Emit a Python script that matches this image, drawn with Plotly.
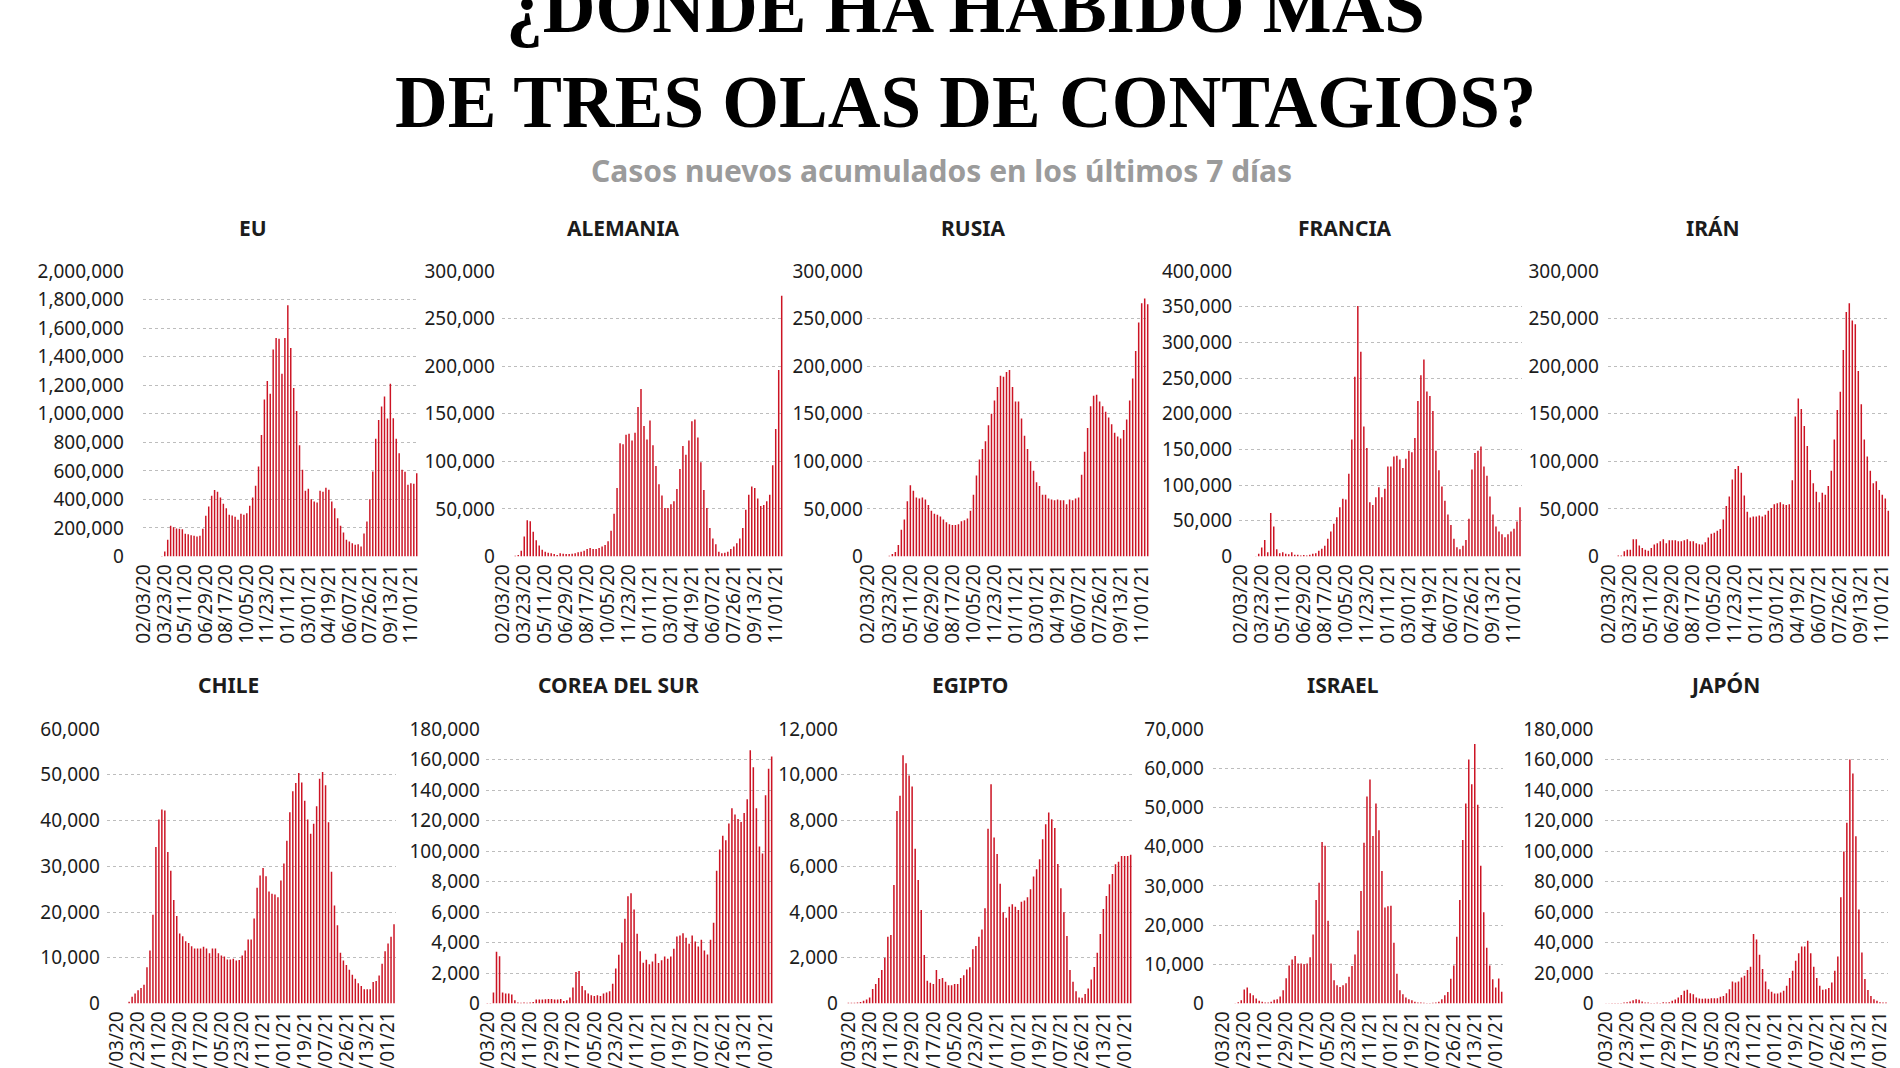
import plotly.graph_objects as go
import pandas as pd

# ---------------- categories / tick labels ----------------
weeks = pd.date_range("2020-01-13", "2021-11-15", freq="7D").strftime("%m/%d/%y").tolist()
tick_labels = ["02/03/20", "03/23/20", "05/11/20", "06/29/20", "08/17/20", "10/05/20",
               "11/23/20", "01/11/21", "03/01/21", "04/19/21", "06/07/21", "07/26/21",
               "09/13/21", "11/01/21"]

# ---------------- data (weekly new cases) ----------------
eu = [0, 0, 0, 0, 100, 500, 3000, 35000, 117000, 215000,
      205000, 196000, 194000, 191000, 159000, 156000, 149000, 145000, 140000, 145000,
      194000, 285000, 350000, 425000, 465000, 453000, 413000, 369000, 338000, 292000,
      287000, 278000, 257000, 299000, 292000, 303000, 355000, 413000, 495000, 630000,
      852000, 1100000, 1230000, 1140000, 1450000, 1530000, 1525000, 1280000, 1530000, 1760000,
      1460000, 1180000, 1020000, 780000, 607000, 460000, 474000, 401000, 385000, 378000,
      460000, 453000, 481000, 467000, 385000, 338000, 268000, 215000, 168000, 117000,
      105000, 93000, 82000, 86000, 70000, 161000, 245000, 401000, 595000, 824000,
      957000, 1050000, 1120000, 966000, 1210000, 969000, 824000, 724000, 607000, 593000,
      502000, 513000, 509000, 583000]

alemania = [0, 0, 50, 100, 800, 1500, 6000, 21000, 38000, 37000,
            26000, 17000, 11500, 7000, 5000, 4000, 3500, 2500, 1500, 3500,
            3000, 2500, 2500, 3000, 3500, 4500, 5000, 6000, 8000, 9000,
            8000, 8000, 9000, 10500, 12000, 16000,
            27000, 45000, 72000, 119000, 118000, 128000, 129000, 122000, 130000, 157000,
            176000, 137000, 123000, 143000, 117000, 95000, 76000, 64000, 51000, 51000,
            55000, 58000, 71000, 92000, 116000, 107000, 122000, 142000, 144000, 125000,
            99000, 70000, 51000, 30000, 19000, 13000, 5000, 3500, 4000, 5000,
            8000, 10500, 14000, 19000, 30000, 49000, 65000, 73500, 72000, 61000,
            53000, 54000, 58000, 65000, 96000, 134000, 196000, 274000]

rusia = [0, 0, 0, 0, 5, 20, 100, 700, 2500,
         4600, 12000, 28000, 39000, 58000, 75000, 69000, 62000, 61000, 62000,
         60000, 54000, 48000, 45000, 44000, 42000, 39000, 36000, 34000, 33000,
         33000, 34000, 37000, 38000, 40000, 48000, 65000, 85000, 102000, 113000,
         121000, 138000, 150000, 164000, 178000, 190000, 189000, 194000, 196000, 178000,
         163000, 163000, 145000, 127000, 113000, 100000, 90000, 78000, 74000, 65000,
         65000, 61000, 60000, 59000, 60000, 59000, 59000, 55000, 60000, 59000,
         61000, 62000, 86000, 110000, 135000, 158000, 169000, 170000, 163000, 158000,
         152000, 146000, 139000, 130000, 126000, 124000, 133000, 144000, 164000, 187000,
         216000, 246000, 266000, 271000, 265000]

francia = [0, 0, 0, 0, 100, 500,
           3700, 12700, 23000, 6000, 61000, 42000, 10000, 4700, 6000, 3700,
           3300, 6000, 2300, 2300, 1400, 2000, 1500, 2500, 3700, 4700,
           8000, 11000, 15000, 25000, 35000, 46000, 55000, 69000, 81000, 80000,
           116000, 164000, 252000, 351000, 287000, 182000, 152000, 76000, 72000, 83000,
           97000, 83000, 95000, 126000, 126000, 140000, 141000, 136000, 124000, 137000,
           148000, 146000, 166000, 218000, 254000, 276000, 231000, 225000, 204000, 148000,
           121000, 98000, 78000, 59000, 44000, 25000, 13000, 10000, 15000, 23000,
           53000, 122000, 145000, 148000, 154000, 126000, 113000, 84000, 59000, 42000,
           35000, 31000, 27000, 31000, 35000, 39000, 49000, 69000]

iran = [0, 0, 50, 1000, 1000,
        5600, 7000, 7000, 18000, 18000, 11600, 9000, 7000, 6000, 9000,
        12600, 14000, 16000, 18000, 14000, 17000, 17000, 17000, 16000, 16000,
        17000, 18000, 16000, 16000, 14000, 13000, 12600, 15000, 20000, 24000,
        25000, 27000, 29000, 39000, 53000, 63000, 81000, 92000, 95000, 88000,
        64000, 47000, 41000, 42000, 42000, 43000, 42000, 44000, 48000, 51000,
        55000, 56000, 57000, 55000, 54000, 55000, 80000, 147000, 166000, 155000,
        137000, 116000, 91000, 77000, 68000, 57000, 67000, 65000, 74000, 90000,
        123000, 154000, 173000, 217000, 257000, 266000, 248000, 244000, 195000, 160000,
        123000, 105000, 90000, 77000, 79000, 70000, 65000, 61000, 48000]

chile = [0, 0, 0,
         0, 0, 0, 0, 360, 1500, 2200, 2900, 3400, 4100,
         7900, 11600, 19400, 34200, 40200, 42400, 42200, 33100, 29000, 22600,
         19100, 15300, 14700, 13600, 13200, 12500, 12000, 12000, 12000, 12400,
         12000, 11000, 12000, 12000, 11000, 10500, 10300, 9600, 9600, 9800,
         9400, 9500, 10500, 11600, 14000, 14000, 18600, 25300, 28000, 29600,
         27800, 24500, 24000, 23800, 23200, 26900, 30600, 35600, 41800, 46400,
         48200, 50400, 48300, 44300, 40200, 37100, 39300, 43100, 49100, 50600,
         47700, 39600, 28800, 21400, 17100, 11100, 9400, 8400, 7400, 6300,
         5400, 4400, 3800, 3100, 3100, 3100, 4700, 4900, 6100, 8700,
         11400, 13100, 14600, 17300]

corea = [40, 40, 720, 3400, 3100, 720, 650, 650, 590, 220,
         65, 50, 60, 50, 60, 100, 260, 260, 260, 280,
         300, 300, 260, 260, 300, 170, 220, 400, 1050, 2070,
         2130, 1150, 870, 650, 540, 500, 540, 500, 650, 720,
         800, 1300, 2300, 3200, 4000, 5550, 7030, 7230, 6160, 4570,
         3420, 2680, 2870, 2570, 2760, 3270, 2660, 2830, 3090, 2940,
         3090, 3590, 4400, 4460, 4600, 4310, 3920, 4460, 4070, 3740,
         4180, 3480, 3220, 4180, 5290, 8700, 10100, 11000, 10700, 11800,
         12800, 12400, 12100, 11900, 12500, 13400, 16600, 15500, 12800, 10300,
         9840, 13650, 15400, 16200]

egipto = [0, 0,
          30, 30, 30, 45, 70, 120, 175, 260, 630, 850,
          1120, 1460, 2000, 2920, 2990, 5180, 8420, 9080, 10850, 10500,
          9970, 9490, 6760, 5400, 4090, 2120, 990, 905, 850, 1460,
          1070, 1120, 950, 800, 800, 850, 850, 1120, 1240, 1490,
          1580, 2370, 2510, 2920, 3240, 4160, 7640, 9590, 7260, 6540,
          5230, 3990, 3750, 4230, 4340, 4230, 4090, 4450, 4500, 4640,
          4990, 5550, 5870, 6310, 7180, 7840, 8350, 8060, 7670, 6100,
          5040, 3990, 2950, 1460, 950, 540, 260, 250, 410, 660,
          1050, 1600, 2220, 3040, 4130, 4700, 5210, 5660, 6090, 6200,
          6450, 6450, 6450, 6500]

israel = [0, 0, 0,
          0, 0, 0, 10, 60, 300, 850, 3600, 4050, 2600,
          2100, 1270, 680, 420, 250, 250, 420, 930, 1100, 1770,
          3380, 6420, 9720, 11200, 12100, 10200, 10200, 10000, 10200, 11800,
          17600, 26400, 30800, 41200, 40200, 21100, 10200, 5900, 4650, 4200,
          4650, 5150, 6850, 9550, 12500, 18600, 28700, 41000, 52800, 57100,
          42700, 51000, 44200, 33800, 24500, 24800, 24900, 15500, 7600, 3400,
          2370, 1520, 1100, 850, 420, 250, 250, 170, 100, 100,
          170, 250, 420, 1100, 2100, 2960, 6340, 9720, 17000, 26400,
          41700, 51000, 62200, 55900, 66200, 50700, 35100, 23300, 14200, 9700,
          6200, 4100, 6400, 3000]

japon = [200, 200, 250, 300, 350, 400, 660, 900, 1300, 2200,
         2850, 2400, 1300, 700, 660, 400, 400, 500, 400, 800,
         600, 900, 1750, 2600, 3900, 5500, 8300, 9000, 6800, 6100,
         3900, 3300, 3100, 3300, 3100, 3500, 3500, 3500, 4400, 5000,
         6800, 9400, 14500, 13800, 14500, 17100, 18200, 21900, 24100, 45600,
         41900, 32000, 22600, 14500, 9400, 7700, 6600, 6600, 7200, 8300,
         11600, 16700, 21500, 28000, 32900, 37300, 37300, 41200, 32900, 24100,
         16700, 11600, 9000, 9400, 10100, 13800, 21500, 30900, 69700, 99700,
         118600, 160000, 150800, 109600, 61600, 33500, 16000, 8800, 5000, 2850,
         1750, 880, 660, 660]

corea_ticktext = ["0", "2,000", "4,000", "6,000", "8,000", "100,000",
                  "120,000", "140,000", "160,000", "180,000"]

# ---------------- layout helpers ----------------
W, H = 1900, 1068
RED = "#cc1424"
TXT = "#1c1c1c"
FONT = "Noto Sans"

TOP = (271, 556.5)      # (top gridline px, zero px)
BOT = (729, 1003.5)

charts = [
    ("EU", eu, 142.8, 418.2, TOP, 2000000, 200000, None, 253, 18),
    ("ALEMANIA", alemania, 501.8, 783.2, TOP, 300000, 50000, None, 623, 6),
    ("RUSIA", rusia, 866.8, 1149.2, TOP, 300000, 50000, None, 973, 3),
    ("FRANCIA", francia, 1239.2, 1521.5, TOP, 400000, 50000, None, 1345, 6),
    ("IRÁN", iran, 1607.8, 1889.8, TOP, 300000, 50000, None, 1713, 8),
    ("CHILE", chile, 106.8, 395.5, BOT, 60000, 10000, None, 228, 6),
    ("COREA DEL SUR", corea, 485.8, 773.2, BOT, 18000, 2000, corea_ticktext, 618, 5),
    ("EGIPTO", egipto, 840.8, 1132.2, BOT, 12000, 2000, None, 970, 2),
    ("ISRAEL", israel, 1212.8, 1503.2, BOT, 70000, 10000, None, 1343, 8),
    ("JAPÓN", japon, 1604.5, 1887.5, BOT, 180000, 20000, None, 1725, 10),
]

fig = go.Figure()
layout = dict(
    width=W, height=H, margin=dict(l=0, r=0, t=0, b=0, pad=0, autoexpand=False),
    paper_bgcolor="white", plot_bgcolor="white",
    showlegend=False, bargap=0.5, font=dict(family=FONT, color=TXT),
)
annotations = []

for i, (name, vals, xl, xr, row, ymax, ystep, ttext, tx, standoff) in enumerate(charts):
    k = "" if i == 0 else str(i + 1)
    cats = weeks[-len(vals):]
    fig.add_trace(go.Bar(x=cats, y=vals, marker=dict(color=RED, line=dict(width=0)),
                         xaxis="x" + k, yaxis="y" + k, hoverinfo="x+y"))
    yt, yz = row
    tvals = list(range(0, ymax + 1, ystep))
    layout["xaxis" + k] = dict(
        domain=[xl / W, xr / W], anchor="y" + k, type="category", automargin=False,
        range=[-0.5, len(vals) - 0.5], showgrid=False, zeroline=False, showline=False,
        ticks="", tickangle=-90, tickmode="array", tickvals=tick_labels, ticktext=tick_labels,
        tickfont=dict(family=FONT, size=19, color=TXT), ticklabelstandoff=3,
        fixedrange=True,
    )
    layout["yaxis" + k] = dict(
        domain=[1 - yz / H, 1 - yt / H], anchor="x" + k, range=[0, ymax], automargin=False,
        tickmode="array", tickvals=tvals,
        ticktext=ttext if ttext else [f"{v:,}" for v in tvals],
        showgrid=True, gridcolor="#bdbdbd", griddash="dot", gridwidth=1,
        zeroline=False, showline=False, ticks="",
        tickfont=dict(family=FONT, size=19, color=TXT), ticklabelstandoff=standoff,
        fixedrange=True,
    )
    ty = 228 if row is TOP else 685
    annotations.append(dict(
        text=f"<b>{name}</b>", x=tx / W, y=1 - ty / H, xref="paper", yref="paper",
        xanchor="center", yanchor="middle", showarrow=False,
        font=dict(family=FONT, size=21, color=TXT),
    ))

# Main title (two lines, top one cut by the page edge) and subtitle
annotations.append(dict(
    text="<b>¿DÓNDE HA HABIDO MÁS<br>DE TRES OLAS DE CONTAGIOS?</b>",
    x=965 / W, y=1 - 55 / H, xref="paper", yref="paper",
    xanchor="center", yanchor="middle", showarrow=False, align="center",
    font=dict(family="Liberation Serif", size=73, color="#000000"),
))
annotations.append(dict(
    text="<b>Casos nuevos acumulados en los últimos 7 días</b>", x=941 / W, y=1 - 170 / H,
    xref="paper", yref="paper", xanchor="center", yanchor="middle", showarrow=False,
    font=dict(family=FONT, size=30, color="#9b9b9b"),
))
layout["annotations"] = annotations

fig.update_layout(**layout)
fig.write_html("out.html", config={"displayModeBar": False, "staticPlot": True},
               post_script="document.body.style.margin='0';document.body.style.overflow='hidden';")
